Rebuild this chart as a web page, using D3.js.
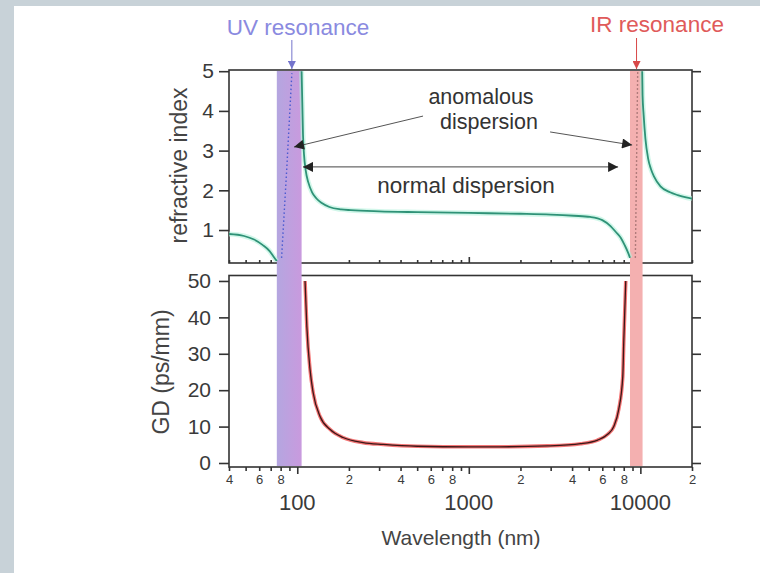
<!DOCTYPE html>
<html>
<head>
<meta charset="utf-8">
<script src="https://cdn.jsdelivr.net/npm/d3@7"></script>
<style>
  body { margin: 0; background: #c8d2d8; }
  svg { display: block; font-family: "Liberation Sans", Arial, sans-serif; }
</style>
</head>
<body>
<div id="chart"></div>
<script>
// wavelength (nm) vs refractive index
const nBelowUV = [[40, 0.9], [49, 0.85], [56, 0.76], [63, 0.62], [69, 0.47], [73, 0.32], [76, 0.22]];
const nAcrossUV = [[81, 0.3], [87, 2.6], [93, 4.95]];
const nNormal = [[106, 5.0], [107, 4.2], [108, 3.4], [109.5, 2.9], [112, 2.5], [116, 2.2], [122, 1.95],
  [129, 1.8], [139, 1.68], [154, 1.58], [180, 1.52], [205, 1.5], [300, 1.47], [500, 1.45], [1000, 1.43],
  [2000, 1.41], [3000, 1.39], [4100, 1.36], [5100, 1.33], [6000, 1.25], [6700, 1.1], [7200, 0.95],
  [7700, 0.8], [8100, 0.62], [8500, 0.42], [8700, 0.3]];
const nAcrossIR = [[9350, 0.3], [9650, 5.0]];
const nAboveIR = [[10250, 5.0], [10300, 4.4], [10450, 3.9], [10700, 3.3], [11100, 2.8], [11500, 2.55],
  [12000, 2.35], [13100, 2.1], [14900, 1.95], [16500, 1.88], [18500, 1.82], [20000, 1.79]];

// group delay (ps/mm)
const gdNormal = [[111, 50], [113.7, 37.5], [118.8, 25.5], [123.8, 19.3], [136, 12.7], [155.6, 9.2],
  [185, 7], [242, 5.6], [317, 5.1], [500, 4.6], [1000, 4.45], [1500, 4.45], [2880, 4.7], [4490, 5.3],
  [5640, 6.3], [6450, 7.9], [7000, 10], [7480, 14.7], [7900, 23.8], [8000, 33], [8220, 50]];

const uvBand = [76, 106];
const irBand = [8700, 10300];
const nTicks = [1, 2, 3, 4, 5];
const gdTicks = [0, 10, 20, 30, 40, 50];
const decadeTicks = [100, 1000, 10000];
const minorLabels = [40, 60, 80, 200, 400, 600, 800, 2000, 4000, 6000, 8000, 20000];

const W = 760, H = 573;
const left = 229, right = 692;
const top1 = 70, bottom1 = 263;
const top2 = 275.5, bottom2 = 467;

const svg = d3.select('#chart').append('svg')
  .attr('width', W)
  .attr('height', H);

svg.append('rect')
  .attr('x', 14).attr('y', 6)
  .attr('width', W - 14).attr('height', H - 6)
  .attr('fill', '#fff');

const defs = svg.append('defs');
const grad = defs.append('linearGradient').attr('id', 'uvgrad');
grad.append('stop').attr('offset', '0%').attr('stop-color', '#b4a6e0');
grad.append('stop').attr('offset', '100%').attr('stop-color', '#c99ade');
defs.append('clipPath').attr('id', 'clip1').append('rect')
  .attr('x', left).attr('y', top1).attr('width', right - left).attr('height', bottom1 - top1);
defs.append('clipPath').attr('id', 'clip2').append('rect')
  .attr('x', left).attr('y', top2).attr('width', right - left).attr('height', bottom2 - top2);

// scales
const x = d3.scaleLog().domain([40, 20000]).range([left, right]);
const yN = d3.scaleLinear().domain([0.17, 5.03]).range([bottom1, top1]);
const yGD = d3.scaleLinear().domain([-1.1, 51.5]).range([bottom2, top2]);

const isDecade = d => Math.abs(Math.log10(d) - Math.round(Math.log10(d))) < 1e-9;
const lead = d => Math.round(d / Math.pow(10, Math.floor(Math.log10(d) + 1e-9)));

//frames
[[top1, bottom1], [top2, bottom2]].forEach(([t, b]) => {
  svg.append('rect')
    .attr('x', left).attr('y', t)
    .attr('width', right - left).attr('height', b - t)
    .attr('fill', 'none')
    .attr('stroke', '#333')
    .attr('stroke-width', 1.6);
});

// y axes
function styleAxis(g) {
  g.select('.domain').remove();
  g.selectAll('.tick line').attr('stroke', '#333').attr('stroke-width', 1.6);
  g.selectAll('text').attr('fill', '#3a3a3a');
}

svg.append('g')
  .attr('transform', `translate(${left},0)`)
  .call(d3.axisLeft(yN).tickValues(nTicks).tickFormat(d3.format('d')).tickSize(10).tickPadding(5))
  .call(styleAxis)
  .selectAll('text').attr('font-size', '21px');

svg.append('g')
  .attr('transform', `translate(${right},0)`)
  .call(d3.axisRight(yN).tickValues(nTicks).tickSize(9).tickFormat(''))
  .call(styleAxis);

svg.append('g')
  .attr('transform', `translate(${left},0)`)
  .call(d3.axisLeft(yGD).tickValues(gdTicks).tickFormat(d3.format('d')).tickSize(10).tickPadding(8))
  .call(styleAxis)
  .selectAll('text').attr('font-size', '21px');

svg.append('g')
  .attr('transform', `translate(${right},0)`)
  .call(d3.axisRight(yGD).tickValues(gdTicks).tickSize(9).tickFormat(''))
  .call(styleAxis);

// x axis of top panel: ticks inside
const xTop = svg.append('g')
  .attr('transform', `translate(0,${bottom1})`)
  .call(d3.axisTop(x).tickValues(x.ticks()).tickSize(3).tickFormat(''))
  .call(styleAxis);
xTop.selectAll('.tick line').attr('y2', d => isDecade(d) ? -6 : -3);

// x axis of bottom panel
const xBot = svg.append('g')
  .attr('transform', `translate(0,${bottom2})`)
  .call(d3.axisBottom(x).tickValues(x.ticks()).tickSize(4).tickPadding(4)
    .tickFormat(d => minorLabels.includes(d) ? String(lead(d)) : ''))
  .call(styleAxis);
xBot.selectAll('.tick line').attr('y2', d => isDecade(d) ? 7 : 4);
xBot.selectAll('.tick text').attr('font-size', '13px');

svg.append('g').selectAll('text')
  .data(decadeTicks)
  .enter()
  .append('text')
  .attr('x', d => x(d))
  .attr('y', 510)
  .attr('text-anchor', 'middle')
  .attr('font-size', '22px')
  .attr('fill', '#3a3a3a')
  .text(d => d);

// resonance bands
svg.append('rect')
  .attr('x', x(uvBand[0])).attr('y', top1 + 1)
  .attr('width', x(uvBand[1]) - x(uvBand[0])).attr('height', bottom2 - top1 - 2)
  .attr('fill', 'url(#uvgrad)');
svg.append('rect')
  .attr('x', x(irBand[0])).attr('y', top1 + 1)
  .attr('width', x(irBand[1]) - x(irBand[0])).attr('height', bottom2 - top1 - 2)
  .attr('fill', '#f4b0b0');

// curves
const lineN = d3.line().x(d => x(d[0])).y(d => yN(d[1])).curve(d3.curveMonotoneX);
const lineStraight = d3.line().x(d => x(d[0])).y(d => yN(d[1]));
const lineGD = d3.line().x(d => x(d[0])).y(d => yGD(d[1])).curve(d3.curveMonotoneX);

const g1 = svg.append('g').attr('clip-path', 'url(#clip1)');
[nBelowUV, nNormal, nAboveIR].forEach(s => {
  g1.append('path').attr('d', lineN(s)).attr('fill', 'none')
    .attr('stroke', '#b4f2dc').attr('stroke-width', 5).attr('stroke-opacity', 0.6);
  g1.append('path').attr('d', lineN(s)).attr('fill', 'none')
    .attr('stroke', '#2f9277').attr('stroke-width', 1.8);
});
g1.append('path').attr('d', lineStraight(nAcrossUV)).attr('fill', 'none')
  .attr('stroke', '#4a5ad0').attr('stroke-width', 1.4).attr('stroke-dasharray', '1.5,2.5');
g1.append('path').attr('d', lineStraight(nAcrossIR)).attr('fill', 'none')
  .attr('stroke', '#9a6a6a').attr('stroke-width', 1.4).attr('stroke-dasharray', '1.5,2.5');

const g2 = svg.append('g').attr('clip-path', 'url(#clip2)');
g2.append('path').attr('d', lineGD(gdNormal)).attr('fill', 'none')
  .attr('stroke', '#f04848').attr('stroke-width', 3.6).attr('stroke-opacity', 0.75);
g2.append('path').attr('d', lineGD(gdNormal)).attr('fill', 'none')
  .attr('stroke', '#3a1818').attr('stroke-width', 1.3);

// arrowheads
const mk = (id, color, w, h) => defs.append('marker').attr('id', id)
  .attr('viewBox', '0 0 10 10').attr('refX', 10).attr('refY', 5)
  .attr('markerWidth', w).attr('markerHeight', h).attr('markerUnits', 'userSpaceOnUse')
  .attr('orient', 'auto-start-reverse')
  .append('path').attr('d', 'M0,0L10,5L0,10Z').attr('fill', color);
mk('ahBlack', '#222', 12, 10);
mk('ahUV', '#7474cc', 8, 8);
mk('ahIR', '#d84848', 8, 8);

// annotations
const ann = svg.append('g');
ann.append('line')
  .attr('x1', x(541)).attr('y1', yN(3.87)).attr('x2', x(95.7)).attr('y2', yN(3.09))
  .attr('stroke', '#555').attr('stroke-width', 1).attr('marker-end', 'url(#ahBlack)');
ann.append('line')
  .attr('x1', x(2977)).attr('y1', yN(3.47)).attr('x2', x(8955)).attr('y2', yN(3.14))
  .attr('stroke', '#555').attr('stroke-width', 1).attr('marker-end', 'url(#ahBlack)');
ann.append('line')
  .attr('x1', x(108)).attr('y1', yN(2.59)).attr('x2', x(7418)).attr('y2', yN(2.59))
  .attr('stroke', '#444').attr('stroke-width', 1)
  .attr('marker-start', 'url(#ahBlack)').attr('marker-end', 'url(#ahBlack)');

ann.append('text').attr('x', 481).attr('y', 104).attr('text-anchor', 'middle')
  .attr('font-size', '21.5px').attr('fill', '#333').text('anomalous');
ann.append('text').attr('x', 489).attr('y', 129).attr('text-anchor', 'middle')
  .attr('font-size', '21.5px').attr('fill', '#333').text('dispersion');
ann.append('text').attr('x', 466).attr('y', 193).attr('text-anchor', 'middle')
  .attr('font-size', '22.5px').attr('fill', '#333').text('normal dispersion');

// resonance labels
ann.append('text').attr('x', 298).attr('y', 35).attr('text-anchor', 'middle')
  .attr('font-size', '22.5px').attr('fill', '#8a8ae0').text('UV resonance');
ann.append('line')
  .attr('x1', x(93)).attr('y1', 40).attr('x2', x(93)).attr('y2', top1 - 1)
  .attr('stroke', '#7474cc').attr('stroke-width', 1).attr('marker-end', 'url(#ahUV)');
ann.append('text').attr('x', 657).attr('y', 32).attr('text-anchor', 'middle')
  .attr('font-size', '22.5px').attr('fill', '#e05a5a').text('IR resonance');
ann.append('line')
  .attr('x1', x(9500)).attr('y1', 38).attr('x2', x(9500)).attr('y2', top1 - 1)
  .attr('stroke', '#d84848').attr('stroke-width', 1).attr('marker-end', 'url(#ahIR)');

// axis titles
svg.append('text')
  .attr('transform', `translate(187,${(top1 + bottom1) / 2 - 1}) rotate(-90)`)
  .attr('text-anchor', 'middle').attr('font-size', '23px').attr('fill', '#444')
  .text('refractive index');
svg.append('text')
  .attr('transform', `translate(169,372) rotate(-90)`)
  .attr('text-anchor', 'middle').attr('font-size', '23px').attr('fill', '#444')
  .text('GD (ps/mm)');
svg.append('text')
  .attr('x', 461).attr('y', 545)
  .attr('text-anchor', 'middle').attr('font-size', '21px').attr('fill', '#444')
  .text('Wavelength (nm)');
</script>
</body>
</html>
